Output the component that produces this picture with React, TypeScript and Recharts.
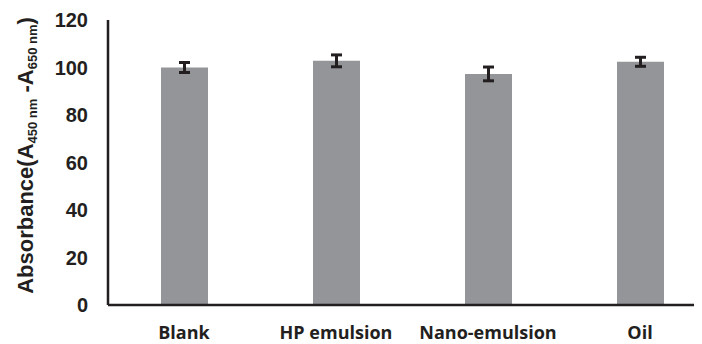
import React from 'react';
import { BarChart, Bar, XAxis, YAxis, ErrorBar } from 'recharts';

const categories = ['Blank', 'HP emulsion', 'Nano-emulsion', 'Oil'];
const absorbance = [100, 102.8, 97.3, 102.4];
const errors = [2.1, 2.5, 2.9, 1.9];
const yTicks = [0, 20, 40, 60, 80, 100, 120];

const data = categories.map((name, i) => ({
  name,
  value: absorbance[i],
  err: errors[i],
}));

const ink = '#231f20';

const YTitle = (props: any) => {
  const vb = props.viewBox || { x: 0, y: 0, width: 0, height: 0 };
  const cx = 25;
  const cy = vb.y + vb.height / 2 - 7;
  return (
    <text
      x={cx}
      y={cy}
      transform={`rotate(-90, ${cx}, ${cy})`}
      textAnchor="middle"
      fill={ink}
      fontFamily="'Liberation Sans', Arial, sans-serif"
      fontWeight="bold"
      fontSize={22}
    >
      Absorbance(A
      <tspan fontSize={13} dy={4}>450 nm</tspan>
      <tspan dy={-4}> -A</tspan>
      <tspan fontSize={13} dy={4}>650 nm</tspan>
      <tspan dy={-4}>)</tspan>
    </text>
  );
};

const App = () => {
  return (
    <div style={{ width: 694, height: 336, overflow: 'hidden' }}>
      <BarChart
        width={720}
        height={336}
        data={data}
        margin={{ top: 12, right: 12, left: 0, bottom: 4 }}
      >
        <XAxis
          dataKey="name"
          height={35}
          axisLine={{ stroke: ink, strokeWidth: 2.5 }}
          tickLine={false}
          tickSize={0}
          tickMargin={21}
          interval={0}
          tick={{
            fill: ink,
            fontFamily: "'Open Sans', sans-serif",
            fontWeight: 700,
            fontSize: 18,
          }}
        />
        <YAxis
          width={100}
          domain={[0, 120]}
          ticks={yTicks}
          axisLine={{ stroke: ink, strokeWidth: 2.5 }}
          tickLine={false}
          tickSize={0}
          tickMargin={20}
          tick={{
            fill: ink,
            fontFamily: "'Liberation Sans', Arial, sans-serif",
            fontWeight: 'bold',
            fontSize: 20,
          }}
          label={<YTitle />}
        />
        <Bar dataKey="value" fill="#939598" barSize={47} isAnimationActive={false}>
          <ErrorBar
            dataKey="err"
            width={5.5}
            stroke={ink}
            strokeWidth={3}
            direction="y"
            isAnimationActive={false}
          />
        </Bar>
      </BarChart>
    </div>
  );
};

export default App;
